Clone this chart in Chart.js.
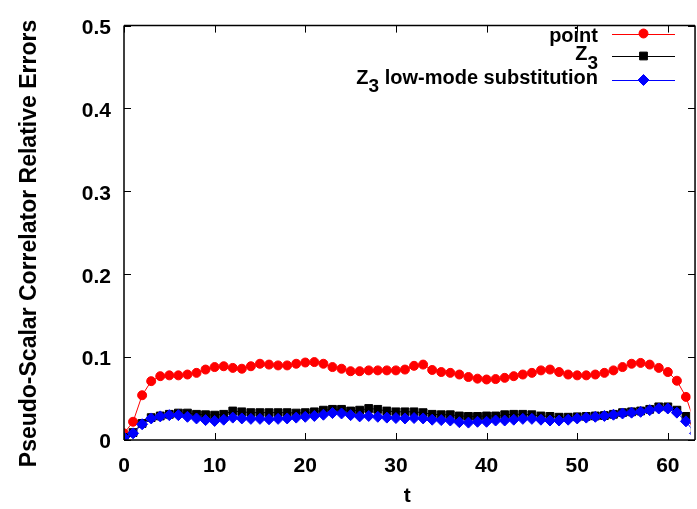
<!DOCTYPE html>
<html>
<head>
<meta charset="utf-8">
<script src="https://cdn.jsdelivr.net/npm/chart.js@4/dist/chart.umd.min.js"></script>
<style>
  html, body { margin: 0; padding: 0; background: #ffffff; }
  #wrap { width: 697px; height: 509px; }
</style>
</head>
<body>
<div id="wrap"><canvas id="c" width="697" height="509"></canvas></div>
<script>
const tValues = [0,1,2,3,4,5,6,7,8,9,10,11,12,13,14,15,16,17,18,19,20,21,22,23,24,25,26,27,28,29,30,31,
  32,33,34,35,36,37,38,39,40,41,42,43,44,45,46,47,48,49,50,51,52,53,54,55,56,57,58,59,60,61,62,63];

const pointErr = [0.008,0.022,0.054,0.071,0.077,0.078,0.078,0.079,0.081,0.085,0.088,0.089,0.087,0.086,0.089,0.092,
  0.091,0.090,0.090,0.092,0.0935,0.094,0.092,0.088,0.086,0.083,0.083,0.084,0.084,0.084,0.084,0.085,
  0.0895,0.091,0.0845,0.082,0.081,0.079,0.076,0.074,0.073,0.0735,0.075,0.077,0.079,0.081,0.084,0.085,
  0.082,0.079,0.078,0.078,0.079,0.081,0.084,0.088,0.092,0.093,0.091,0.087,0.082,0.0715,0.052,0.020];

const z3Err = [0.003,0.009,0.020,0.027,0.029,0.031,0.0325,0.0325,0.031,0.0305,0.030,0.031,0.035,0.034,0.033,0.033,
  0.033,0.033,0.033,0.0325,0.033,0.034,0.036,0.037,0.037,0.035,0.036,0.038,0.037,0.035,0.034,0.034,
  0.034,0.033,0.031,0.0305,0.0305,0.029,0.0285,0.0285,0.029,0.029,0.0305,0.031,0.031,0.0305,0.029,0.0285,
  0.0275,0.0275,0.028,0.0285,0.029,0.0295,0.031,0.033,0.034,0.035,0.037,0.040,0.040,0.036,0.0285,0.012];

const z3LowModeErr = [0.003,0.008,0.019,0.026,0.0285,0.030,0.030,0.028,0.026,0.024,0.023,0.0245,0.027,0.026,0.0255,0.0255,
  0.025,0.0255,0.026,0.027,0.028,0.029,0.0305,0.0325,0.032,0.030,0.0285,0.029,0.028,0.027,0.0265,0.026,
  0.0265,0.026,0.0245,0.024,0.0235,0.0215,0.021,0.022,0.022,0.0235,0.0235,0.0245,0.0255,0.0255,0.0245,0.0235,
  0.0235,0.0245,0.026,0.027,0.028,0.029,0.0305,0.032,0.033,0.034,0.036,0.038,0.038,0.033,0.0225,0.008];

const seriesLabels = ['point', 'Z\u2083', 'Z\u2083 low-mode substitution'];
const xTickValues = [0,10,20,30,40,50,60];
const yTickValues = [0,0.1,0.2,0.3,0.4,0.5];
const xTitle = 't';
const yTitle = 'Pseudo-Scalar Correlator Relative Errors';

const FONT = '"Liberation Sans", Arial, Helvetica, sans-serif';

function toXY(vals) { return tValues.map((t, i) => ({ x: t, y: vals[i] })); }

const framePlugin = {
  id: 'gnuFrame',
  afterDraw(chart) {
    const { ctx, chartArea: a, scales: { x, y } } = chart;
    const xr = x.getPixelForValue(63);
    ctx.save();
    ctx.strokeStyle = '#000000';
    ctx.lineWidth = 1.5;
    ctx.beginPath();
    ctx.moveTo(a.left, a.top); ctx.lineTo(xr, a.top);
    ctx.moveTo(a.left, a.top); ctx.lineTo(a.left, a.bottom);
    ctx.moveTo(a.left, a.bottom); ctx.lineTo(xr, a.bottom);
    ctx.moveTo(xr, a.top); ctx.lineTo(xr, a.bottom);
    ctx.stroke();
    ctx.lineWidth = 1;
    ctx.beginPath();
    xTickValues.forEach(v => {
      const px = Math.round(x.getPixelForValue(v)) + 0.5;
      ctx.moveTo(px, a.bottom); ctx.lineTo(px, a.bottom - 7);
      ctx.moveTo(px, a.top); ctx.lineTo(px, a.top + 7);
    });
    yTickValues.forEach(v => {
      const py = Math.round(y.getPixelForValue(v)) + 0.5;
      ctx.moveTo(a.left, py); ctx.lineTo(a.left + 7, py);
      ctx.moveTo(xr, py); ctx.lineTo(xr - 7, py);
    });
    ctx.stroke();

    // y-axis title (gnuplot places it slightly below the plot centre)
    ctx.save();
    ctx.translate(30, 243.5);
    ctx.rotate(-Math.PI / 2);
    ctx.font = 'bold 23px ' + FONT;
    ctx.fillStyle = '#000000';
    ctx.textAlign = 'center';
    ctx.textBaseline = 'middle';
    ctx.fillText(yTitle, 0, 0);
    ctx.restore();

    // legend (gnuplot style: text right-aligned, sample to the right)
    const rowsY = [33.5, 56, 80];
    const baseY = [42, 60, 83.5];
    const textRight = 598;
    const lineL = 612, lineR = 675, markX = 643.5;
    const big = 'bold 20px ' + FONT;
    const small = 'bold 19px ' + FONT;
    chart.data.datasets.forEach((ds, i) => {
      const ly = rowsY[i];
      const label = ds.label;
      const parts = [];
      let buf = '';
      for (const ch of label) {
        if (ch === '\u2083') {
          if (buf) parts.push({ t: buf, sub: false });
          buf = '';
          parts.push({ t: '3', sub: true });
        } else buf += ch;
      }
      if (buf) parts.push({ t: buf, sub: false });
      let total = 0;
      parts.forEach(p => { ctx.font = p.sub ? small : big; p.w = ctx.measureText(p.t).width; total += p.w; });
      let cx = textRight - total;
      const base = baseY[i];
      ctx.fillStyle = '#000000';
      ctx.textBaseline = 'alphabetic';
      ctx.textAlign = 'left';
      parts.forEach(p => {
        ctx.font = p.sub ? small : big;
        ctx.fillText(p.t, cx, p.sub ? base + 8.5 : base);
        cx += p.w;
      });
      ctx.strokeStyle = ds.borderColor;
      ctx.lineWidth = 1;
      ctx.beginPath();
      ctx.moveTo(lineL, Math.round(ly) + 0.5); ctx.lineTo(lineR, Math.round(ly) + 0.5);
      ctx.stroke();
      ctx.fillStyle = ds.pointBackgroundColor;
      ctx.strokeStyle = ds.pointBorderColor;
      Chart.helpers.drawPoint(ctx, { pointStyle: ds.pointStyle, radius: ds.pointRadius, rotation: 0, borderWidth: 1 }, markX, ly);
    });
    ctx.restore();
  }
};

new Chart(document.getElementById('c'), {
  type: 'line',
  data: {
    datasets: [
      { label: seriesLabels[0], data: toXY(pointErr), borderColor: '#ff0000', backgroundColor: '#ff0000',
        pointBackgroundColor: '#ff0000', pointBorderColor: '#ff0000', pointStyle: 'circle', pointRadius: 4.5,
        pointBorderWidth: 1, borderWidth: 1, order: 3 },
      { label: seriesLabels[1], data: toXY(z3Err), borderColor: '#000000', backgroundColor: '#000000',
        pointBackgroundColor: '#000000', pointBorderColor: '#000000', pointStyle: 'rect', pointRadius: 5.5,
        pointBorderWidth: 1, borderWidth: 1, order: 2 },
      { label: seriesLabels[2], data: toXY(z3LowModeErr), borderColor: '#0000ff', backgroundColor: '#0000ff',
        pointBackgroundColor: '#0000ff', pointBorderColor: '#0000ff', pointStyle: 'rectRot', pointRadius: 5.5,
        pointBorderWidth: 1, borderWidth: 1, order: 1 }
    ]
  },
  options: {
    responsive: false,
    devicePixelRatio: 1,
    animation: false,
    layout: { padding: { top: 14, left: 0, right: 0, bottom: 0 } },
    plugins: { legend: { display: false }, tooltip: { enabled: false } },
    scales: {
      x: {
        type: 'linear', min: 0, max: 62.5,
        grid: { display: false, drawTicks: false }, border: { display: false },
        afterFit: s => { s.height = 69; },
        afterBuildTicks: s => { s.ticks = xTickValues.map(v => ({ value: v })); },
        ticks: { includeBounds: false, padding: 14, color: '#000000', maxRotation: 0,
          font: { family: FONT, size: 21, weight: 'bold' }, callback: v => String(v) },
        title: { display: true, text: xTitle, color: '#000000', padding: { top: 0, bottom: 0 },
          font: { family: FONT, size: 21, weight: 'bold' } }
      },
      y: {
        type: 'linear', min: 0, max: 0.5,
        grid: { display: false, drawTicks: false }, border: { display: false },
        afterFit: s => { s.width = 124; },
        afterBuildTicks: s => { s.ticks = yTickValues.map(v => ({ value: v })); },
        ticks: { padding: 13, labelOffset: 2.5, color: '#000000',
          font: { family: FONT, size: 21, weight: 'bold' }, callback: v => String(Number(v.toFixed(1))) },
        title: { display: false, text: yTitle }
      }
    }
  },
  plugins: [framePlugin]
});
</script>
</body>
</html>
